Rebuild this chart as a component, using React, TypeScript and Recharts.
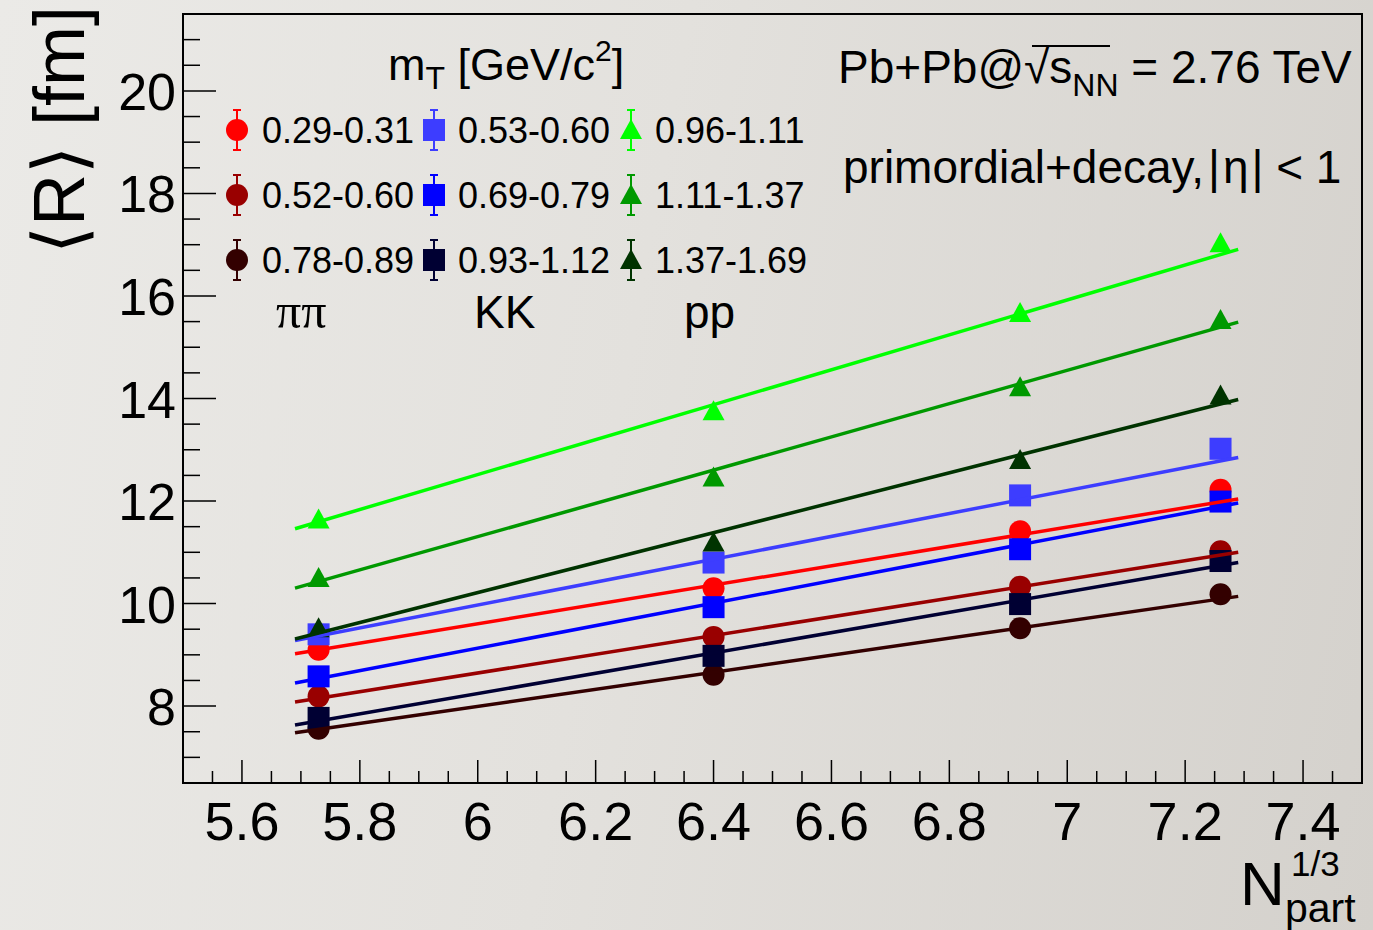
import { ComposedChart, Scatter, XAxis, YAxis, ReferenceArea } from "recharts";

const FONT = '"Liberation Sans", Arial, Helvetica, sans-serif';
const SERIF = '"Liberation Serif", "DejaVu Serif", serif';

// N_part^(1/3) of the four centrality classes
const nPart = [5.73, 6.4, 6.92, 7.26];
// x range of the linear fits
const fitRange = [5.69, 7.29];

// <R> [fm], pions
const piA = [9.1, 10.3, 11.41, 12.22];
const piB = [8.19, 9.35, 10.33, 11.02];
const piC = [7.56, 8.61, 9.52, 10.18];
// kaons
const kA = [9.4, 10.8, 12.11, 13.02];
const kB = [8.58, 9.93, 11.06, 11.99];
const kC = [7.77, 8.98, 9.99, 10.83];
// protons
const pA = [11.64, 13.75, 15.67, 17.03];
const pB = [10.5, 12.46, 14.22, 15.53];
const pC = [9.52, 11.19, 12.8, 14.06];

// fit values at fitRange ends
const piAFit = [9.02, 12.04];
const piBFit = [8.08, 11.0];
const piCFit = [7.48, 10.14];
const kAFit = [9.28, 12.85];
const kBFit = [8.45, 11.96];
const kCFit = [7.63, 10.8];
const pAFit = [11.46, 16.91];
const pBFit = [10.3, 15.49];
const pCFit = [9.31, 13.98];

const xTicks = [
  5.55, 5.6, 5.65, 5.7, 5.75, 5.8, 5.85, 5.9, 5.95, 6, 6.05, 6.1, 6.15, 6.2, 6.25, 6.3, 6.35, 6.4, 6.45,
  6.5, 6.55, 6.6, 6.65, 6.7, 6.75, 6.8, 6.85, 6.9, 6.95, 7, 7.05, 7.1, 7.15, 7.2, 7.25, 7.3, 7.35, 7.4, 7.45,
];
const yTicks = [
  7, 7.5, 8, 8.5, 9, 9.5, 10, 10.5, 11, 11.5, 12, 12.5, 13, 13.5, 14, 14.5, 15, 15.5, 16, 16.5, 17, 17.5,
  18, 18.5, 19, 19.5, 20, 20.5, 21,
];

type Shape = "circle" | "square" | "triangle";

const series: { name: string; color: string; shape: Shape; values: number[]; fit: number[] }[] = [
  { name: "0.29-0.31", color: "#ff0000", shape: "circle", values: piA, fit: piAFit },
  { name: "0.52-0.60", color: "#990000", shape: "circle", values: piB, fit: piBFit },
  { name: "0.78-0.89", color: "#330000", shape: "circle", values: piC, fit: piCFit },
  { name: "0.53-0.60", color: "#3d3dff", shape: "square", values: kA, fit: kAFit },
  { name: "0.69-0.79", color: "#0000ff", shape: "square", values: kB, fit: kBFit },
  { name: "0.93-1.12", color: "#000033", shape: "square", values: kC, fit: kCFit },
  { name: "0.96-1.11", color: "#00ff00", shape: "triangle", values: pA, fit: pAFit },
  { name: "1.11-1.37", color: "#009900", shape: "triangle", values: pB, fit: pBFit },
  { name: "1.37-1.69", color: "#003300", shape: "triangle", values: pC, fit: pCFit },
];

const groupLabels = ["ππ", "KK", "pp"];

const W = 1373;
const H = 930;
const PLOT_LEFT = 183;
const PLOT_TOP = 14;
const PLOT_RIGHT = 1362;
const PLOT_BOTTOM = 783;

function marker(shape: Shape, cx: number, cy: number, color: string) {
  if (shape === "circle") return <circle cx={cx} cy={cy} r={11} fill={color} />;
  if (shape === "square") return <rect x={cx - 11} y={cy - 11} width={22} height={22} fill={color} />;
  return <polygon points={`${cx - 11},${cy + 9} ${cx + 11},${cy + 9} ${cx},${cy - 11}`} fill={color} />;
}

const XTick = (props: any) => {
  const { x, payload } = props;
  const v = payload.value as number;
  const major = Math.abs(v * 5 - Math.round(v * 5)) < 1e-6;
  return (
    <g>
      <line x1={x} x2={x} y1={PLOT_BOTTOM} y2={PLOT_BOTTOM - (major ? 23 : 12)} stroke="#000" strokeWidth={1.5} />
      {major && (
        <text x={x} y={840} textAnchor="middle" fontSize={54} fontFamily={FONT} fill="#000">
          {String(+v.toFixed(1))}
        </text>
      )}
    </g>
  );
};

const YTick = (props: any) => {
  const { y, payload } = props;
  const v = payload.value as number;
  const major = Math.abs(v / 2 - Math.round(v / 2)) < 1e-6;
  return (
    <g>
      <line x1={PLOT_LEFT} x2={PLOT_LEFT + (major ? 33 : 17)} y1={y} y2={y} stroke="#000" strokeWidth={1.5} />
      {major && (
        <text x={176} y={y + 19} textAnchor="end" fontSize={52} fontFamily={FONT} fill="#000">
          {String(v)}
        </text>
      )}
    </g>
  );
};

function Legend() {
  const colMarker = [237, 434, 631];
  const colText = [262, 458, 655];
  const rowY = [130, 195, 260];
  return (
    <g fontFamily={FONT} fill="#000">
      {series.map((s, i) => {
        const col = Math.floor(i / 3);
        const row = i % 3;
        const cx = colMarker[col];
        const cy = rowY[row];
        return (
          <g key={s.name + i}>
            <line x1={cx} x2={cx} y1={cy - 20} y2={cy + 20} stroke={s.color} strokeWidth={2} />
            <line x1={cx - 4} x2={cx + 4} y1={cy - 20} y2={cy - 20} stroke={s.color} strokeWidth={2} />
            <line x1={cx - 4} x2={cx + 4} y1={cy + 20} y2={cy + 20} stroke={s.color} strokeWidth={2} />
            {marker(s.shape, cx, cy, s.color)}
            <text x={colText[col]} y={cy + 13} fontSize={36}>
              {s.name}
            </text>
          </g>
        );
      })}
      {groupLabels.map((g, i) => (
        <text
          key={g}
          x={[276, 474, 684][i]}
          y={328}
          fontSize={i === 0 ? 50 : 46}
          fontFamily={i === 0 ? SERIF : FONT}
        >
          {g}
        </text>
      ))}
      <text x={388} y={80} fontSize={45}>
        m<tspan fontSize={32} dy={9}>T</tspan>
        <tspan dy={-9}> [GeV/c</tspan>
        <tspan fontSize={30} dy={-19}>2</tspan>
        <tspan dy={19}>]</tspan>
      </text>
    </g>
  );
}

function Annotations() {
  return (
    <svg width={W} height={H} style={{ position: "absolute", left: 0, top: 0, pointerEvents: "none" }}>
      <Legend />
      <g fontFamily={FONT} fill="#000">
        <text x={838} y={83} fontSize={46}>
          Pb+Pb@<tspan>√</tspan>s<tspan fontSize={32} dy={13}>NN</tspan>
          <tspan dy={-13}> = 2.76 TeV</tspan>
        </text>
        <line x1={1032} x2={1110} y1={46} y2={46} stroke="#000" strokeWidth={2} />
        <text x={843} y={183} fontSize={46}>
          primordial+decay,<tspan dx={4}>|</tspan>
          <tspan dx={3}>η</tspan>
          <tspan dx={3}>|</tspan> &lt; 1
        </text>
        <text transform="translate(84, 6) rotate(-90)" textAnchor="end" fontSize={72}>
          ⟨R⟩ [fm]
        </text>
        <text x={1240} y={905} fontSize={62}>
          N
        </text>
        <text x={1291} y={876} fontSize={35}>
          1/3
        </text>
        <text x={1285} y={922} fontSize={41}>
          part
        </text>
      </g>
    </svg>
  );
}

export default function App() {
  return (
    <div
      style={{
        position: "absolute",
        left: 0,
        top: 0,
        width: W,
        height: H,
        background: "linear-gradient(100deg, #ebeae7 0%, #e3e1dd 45%, #d4d1cc 100%)",
        fontFamily: FONT,
      }}
    >
      <ComposedChart
        width={W}
        height={H}
        margin={{ top: PLOT_TOP, right: W - PLOT_RIGHT, left: 0, bottom: 0 }}
      >
        <XAxis
          type="number"
          dataKey="x"
          domain={[5.5, 7.5]}
          ticks={xTicks}
          interval={0}
          allowDataOverflow
          height={H - PLOT_BOTTOM}
          tick={XTick}
          tickLine={false}
          axisLine={false}
        />
        <YAxis
          type="number"
          dataKey="y"
          domain={[6.5, 21.5]}
          ticks={yTicks}
          interval={0}
          allowDataOverflow
          width={PLOT_LEFT}
          tick={YTick}
          tickLine={false}
          axisLine={false}
        />
        <ReferenceArea
          x1={5.5}
          x2={7.5}
          y1={6.5}
          y2={21.5}
          fill="none"
          stroke="#000"
          strokeWidth={2}
          ifOverflow="visible"
        />
        {series.map((s) => (
          <Scatter
            key={"pts" + s.name + s.color}
            data={nPart.map((x, i) => ({ x, y: s.values[i] }))}
            dataKey="y"
            isAnimationActive={false}
            shape={(p: any) => marker(s.shape, p.cx, p.cy, s.color)}
          />
        ))}
        {series.map((s) => (
          <Scatter
            key={"fit" + s.name + s.color}
            data={fitRange.map((x, i) => ({ x, y: s.fit[i] }))}
            dataKey="y"
            isAnimationActive={false}
            line={{ stroke: s.color, strokeWidth: 3.5 }}
            lineType="joint"
            shape={() => <g />}
          />
        ))}
      </ComposedChart>
      <Annotations />
    </div>
  );
}
